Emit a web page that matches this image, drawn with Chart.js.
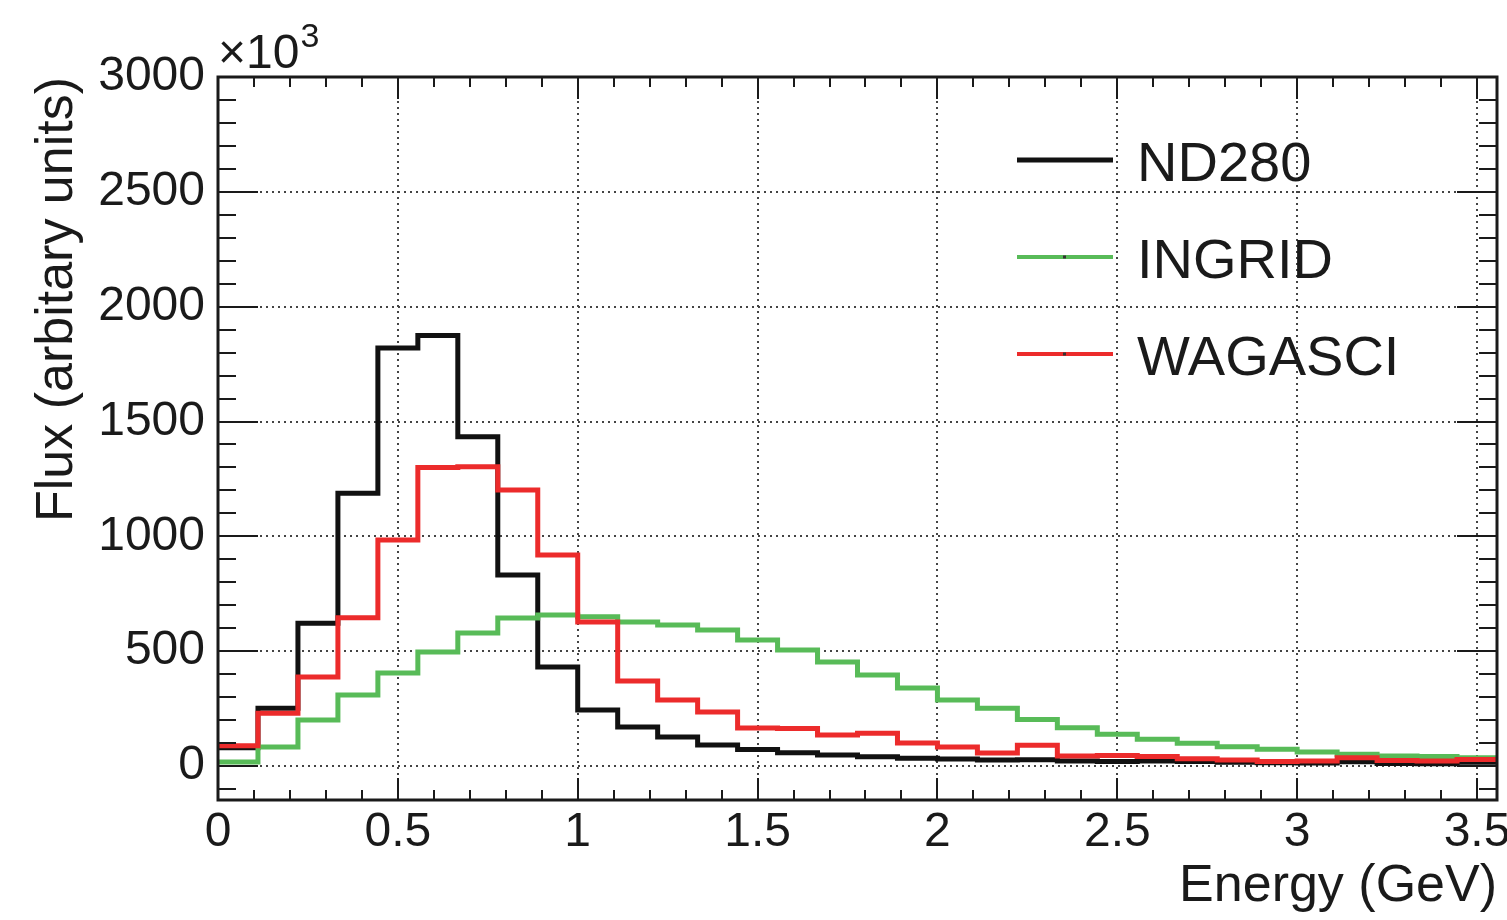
<!DOCTYPE html>
<html>
<head>
<meta charset="utf-8">
<script src="https://cdn.jsdelivr.net/npm/chart.js@4.4.0/dist/chart.umd.min.js"></script>
<style>
  html, body { margin: 0; padding: 0; background: #fff; }
</style>
</head>
<body>
<canvas id="fluxChart" width="1507" height="920"></canvas>
<script>
// 32 bins of 1/9 GeV, 0 - 3.556 GeV
const nBins = 32;
const binWidth = 1 / 9;

// flux per bin (x10^3, arbitrary units)
const nd280 = [80, 252, 622, 1188, 1820, 1875, 1434, 832, 431, 244, 170, 126, 92, 72, 58, 48,
               40, 34, 30, 26, 27, 22, 20, 22, 20, 16, 14, 13, 18, 11, 10, 16];
const ingrid = [17, 83, 200, 309, 405, 496, 579, 644, 657, 650, 627, 614, 592, 549, 505, 453,
                396, 340, 287, 252, 203, 167, 138, 116, 99, 84, 73, 61, 51, 44, 41, 36];
const wagasci = [88, 230, 388, 645, 984, 1300, 1303, 1202, 919, 627, 370, 287, 235, 165, 163, 135,
                 143, 100, 83, 57, 90, 44, 46, 41, 32, 26, 20, 22, 36, 24, 22, 28];

const seriesNames = ['ND280', 'INGRID', 'WAGASCI'];
const seriesColors = ['#111111', '#58bb58', '#ec2b2b'];

const xTicks = [0, 0.5, 1, 1.5, 2, 2.5, 3, 3.5];
const yTicks = [0, 500, 1000, 1500, 2000, 2500, 3000];
const xMinorStep = 0.1;
const yMinorStep = 100;
const yMin = -148;
const yMax = 3000;

const fontFamily = "'Liberation Sans', Arial, Helvetica, sans-serif";

// turn bin contents into points at the bin low edges (+ closing edge)
function histPoints(values) {
    const pts = values.map((v, i) => ({ x: i * binWidth, y: v }));
    pts.push({ x: nBins * binWidth, y: values[values.length - 1] });
    return pts;
}

function histDataset(label, values, color, order) {
    return {
        label: label,
        data: histPoints(values),
        borderColor: color,
        backgroundColor: color,
        borderWidth: 5,
        stepped: true,
        pointRadius: 0,
        borderJoinStyle: 'miter',
        borderCapStyle: 'butt',
        fill: false,
        order: order
    };
}

// ROOT style frame with inward ticks on all four sides
const rootFrame = {
    id: 'rootFrame',
    afterDatasetsDraw(chart) {
        const { ctx, chartArea: a, scales: { x, y } } = chart;
        ctx.save();
        ctx.strokeStyle = '#1a1a1a';
        ctx.lineWidth = 2;
        ctx.beginPath();
        for (let v = 0; v <= x.max + 1e-9; v += xMinorStep) {
            const major = xTicks.some(t => Math.abs(t - v) < 1e-6);
            const len = major ? 22 : 10;
            const px = Math.round(x.getPixelForValue(v));
            ctx.moveTo(px, a.bottom); ctx.lineTo(px, a.bottom - len);
            ctx.moveTo(px, a.top); ctx.lineTo(px, a.top + len);
        }
        for (let v = -100; v <= y.max + 1e-9; v += yMinorStep) {
            const major = yTicks.includes(v);
            const len = major ? 40 : 18;
            const py = Math.round(y.getPixelForValue(v));
            ctx.moveTo(a.left, py); ctx.lineTo(a.left + len, py);
            ctx.moveTo(a.right, py); ctx.lineTo(a.right - len, py);
        }
        ctx.stroke();
        ctx.lineWidth = 3;
        ctx.strokeRect(a.left, a.top, a.right - a.left, a.bottom - a.top);
        ctx.restore();
    },
    afterDraw(chart) {
        const { ctx, chartArea: a } = chart;
        ctx.save();
        ctx.fillStyle = '#1a1a1a';
        // x10^3 exponent
        ctx.font = '48px ' + fontFamily;
        ctx.textBaseline = 'alphabetic';
        ctx.textAlign = 'left';
        ctx.fillText('\u00d710', a.left, 68);
        const w = ctx.measureText('\u00d710').width;
        ctx.font = '34px ' + fontFamily;
        ctx.fillText('3', a.left + w + 1, 47);

        // legend (transparent, inside frame)
        const rowY = [160, 257, 354];
        chart.data.datasets.forEach((ds, i) => {
            const yy = rowY[i];
            ctx.strokeStyle = ds.borderColor;
            ctx.lineWidth = i === 0 ? 5 : 4;
            ctx.beginPath();
            ctx.moveTo(1017, yy);
            ctx.lineTo(1113, yy);
            ctx.stroke();
            if (i > 0) {
                ctx.fillStyle = '#333';
                ctx.fillRect(1063, yy - 1.5, 3, 3);
            }
            ctx.fillStyle = '#1a1a1a';
            ctx.font = '56px ' + fontFamily;
            ctx.fillText(ds.label, 1137, yy + 21);
        });
        ctx.restore();
    }
};

const chartContainer = document.getElementById('fluxChart');

const chartData = {
    datasets: [
        histDataset(seriesNames[0], nd280, seriesColors[0], 3),
        histDataset(seriesNames[1], ingrid, seriesColors[1], 2),
        histDataset(seriesNames[2], wagasci, seriesColors[2], 1)
    ]
};

const gridStyle = {
    color: '#444444',
    lineWidth: 2,
    drawTicks: false
};

const chartConfig = {
    type: 'line',
    data: chartData,
    options: {
        responsive: false,
        animation: false,
        layout: { padding: { top: 77, right: 10, left: 0, bottom: 0 } },
        plugins: {
            legend: { display: false },
            tooltip: { enabled: false }
        },
        scales: {
            x: {
                type: 'linear',
                min: 0,
                max: nBins * binWidth,
                grid: gridStyle,
                border: { display: false, dash: [2, 4] },
                afterBuildTicks: scale => { scale.ticks = xTicks.map(v => ({ value: v })); },
                afterFit: scale => { scale.height = 120; scale.paddingLeft = 0; scale.paddingRight = 0; },
                ticks: {
                    padding: 4,
                    color: '#1a1a1a',
                    maxRotation: 0,
                    font: { family: fontFamily, size: 48 },
                    callback: v => String(v)
                },
                title: {
                    display: true,
                    text: 'Energy (GeV)',
                    align: 'end',
                    color: '#1a1a1a',
                    font: { family: fontFamily, size: 52 },
                    padding: { top: 0, bottom: 2 }
                }
            },
            y: {
                type: 'linear',
                min: yMin,
                max: yMax,
                grid: gridStyle,
                border: { display: false, dash: [2, 4] },
                afterBuildTicks: scale => { scale.ticks = yTicks.map(v => ({ value: v })); },
                afterFit: scale => { scale.width = 218; scale.paddingTop = 0; scale.paddingBottom = 0; },
                ticks: {
                    padding: 13,
                    color: '#1a1a1a',
                    font: { family: fontFamily, size: 48 },
                    callback: v => String(v)
                },
                title: {
                    display: true,
                    text: 'Flux (arbitary units)',
                    align: 'end',
                    color: '#1a1a1a',
                    font: { family: fontFamily, size: 52 },
                    padding: { top: 26, bottom: 0 }
                }
            }
        }
    },
    plugins: [rootFrame]
};

const fluxChart = new Chart(chartContainer, chartConfig);
</script>
</body>
</html>
